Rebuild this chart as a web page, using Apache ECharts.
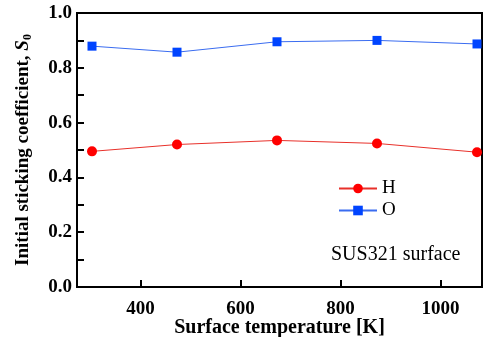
<!DOCTYPE html>
<html><head><meta charset="utf-8">
<script src="https://cdn.jsdelivr.net/npm/echarts@6/dist/echarts.min.js"></script>
<style>html,body{margin:0;padding:0;background:#fff}#c{width:483px;height:337px}</style>
</head><body><div id="c"></div>
<script>
const temps = [303, 473, 673, 873, 1073];
const hValues = [0.495, 0.520, 0.535, 0.524, 0.492];
const oValues = [0.879, 0.857, 0.895, 0.900, 0.887];
const xTickLabels = [400, 600, 800, 1000];
const yTickLabels = ['0.0','0.2','0.4','0.6','0.8','1.0'];
const font = 'Liberation Serif';
const chart = echarts.init(document.getElementById('c'));
chart.setOption({
  animation:false,
  grid:{left:77,top:13,right:1,bottom:50,containLabel:false,outerBoundsMode:'none',
    show:true,borderColor:'#000',borderWidth:2,backgroundColor:'transparent'},
  xAxis:{type:'value',min:273,max:1083,interval:200,
    axisLine:{show:true,lineStyle:{color:'#000',width:2}},
    axisTick:{show:true,inside:true,length:7,lineStyle:{color:'#000',width:2},customValues:xTickLabels},
    axisLabel:{color:'#000',fontFamily:font,fontWeight:'bold',fontSize:19,margin:13,customValues:xTickLabels,formatter:v=>String(v)},
    splitLine:{show:false},
    name:'Surface temperature [K]',nameLocation:'middle',nameGap:31,nameMoveOverlap:false,
    nameTextStyle:{color:'#000',fontFamily:font,fontWeight:'bold',fontSize:20}},
  yAxis:{type:'value',min:0,max:1,interval:0.1,
    axisLine:{show:true,lineStyle:{color:'#000',width:2}},
    axisTick:{show:true,inside:true,length:7,lineStyle:{color:'#000',width:2}},
    axisLabel:{color:'#000',fontFamily:font,fontWeight:'bold',fontSize:19,margin:5,
      formatter:v=>{const s=v.toFixed(1);return yTickLabels.includes(s)&&Math.round(v*10)%2===0?s:'';}},
    splitLine:{show:false},
    name:'{a|Initial sticking coefficient, }{i|S}{s|0}',nameLocation:'middle',nameGap:43,nameMoveOverlap:false,
    nameTextStyle:{color:'#000',fontFamily:font,fontWeight:'bold',fontSize:19,
      rich:{a:{fontFamily:font,fontWeight:'bold',fontSize:19,color:'#000'},
            i:{fontFamily:font,fontWeight:'bold',fontStyle:'italic',fontSize:19,color:'#000'},
            s:{fontFamily:font,fontWeight:'bold',fontSize:12,color:'#000',padding:[9,0,0,0]}}}},
  legend:{orient:'vertical',left:333,top:174,itemGap:3,itemWidth:38,itemHeight:12,
    textStyle:{color:'#000',fontFamily:font,fontSize:19},
    data:['H','O']},
  graphic:[{type:'text',left:331,top:245,style:{text:'SUS321 surface',fontFamily:font,fontSize:20,fill:'#000'}}],
  series:[
    {name:'H',type:'line',data:temps.map((t,i)=>[t,hValues[i]]),symbol:'circle',symbolSize:10,
      itemStyle:{color:'#ff0000'},lineStyle:{color:'#e8302a',width:1}},
    {name:'O',type:'line',data:temps.map((t,i)=>[t,oValues[i]]),symbol:'rect',symbolSize:9,
      itemStyle:{color:'#0044ff'},lineStyle:{color:'#3a6cf0',width:1}}
  ]
});
</script></body></html>
